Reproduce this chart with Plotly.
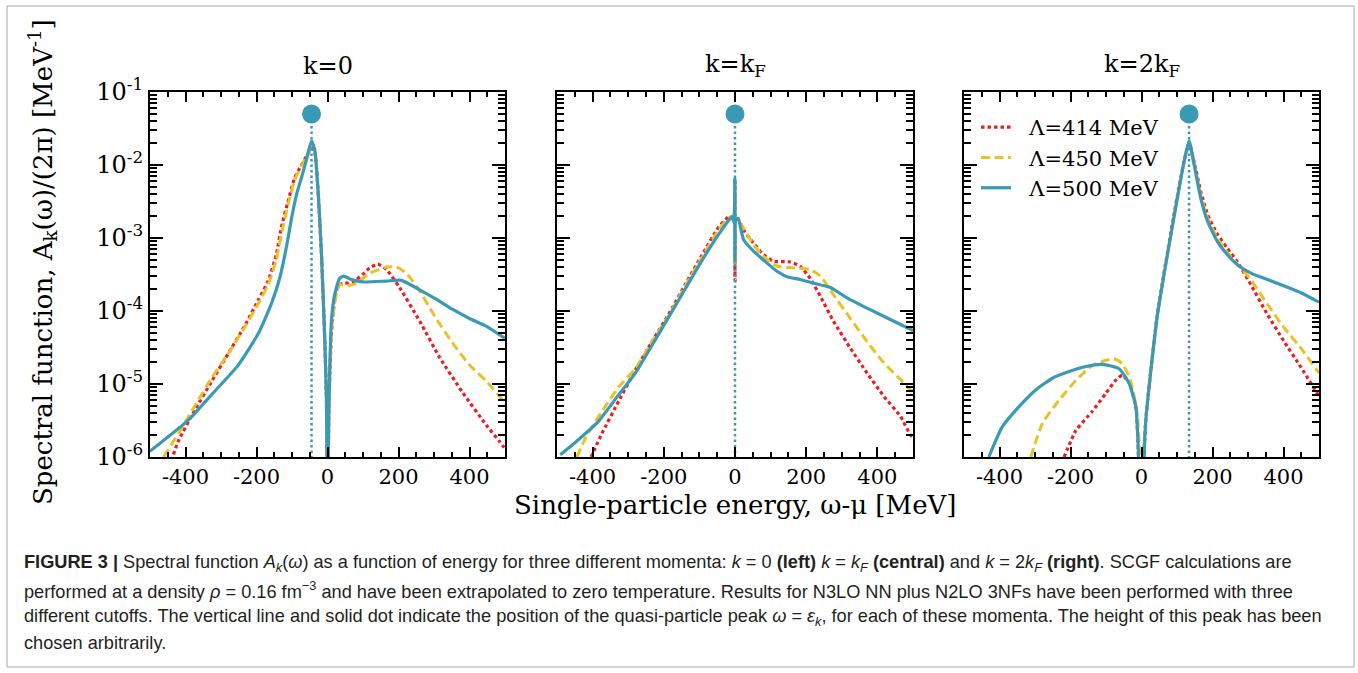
import plotly.graph_objects as go

# ---------------- data ----------------
# k = 0 panel
e_k0_414 = [-440, -420, -373, -327, -280, -233, -195, -167, -144, -130, -111, -92, -78, -59, -45, -36, -26, -17, -8, -3, 0, 4, 11, 20, 30, 45, 70, 100, 119, 142, 166, 203, 260, 316, 381, 447, 485, 505]
a_k0_414 = [8.9e-7, 1.66e-6, 4.5e-6, 1.07e-5, 2.6e-5, 6.3e-5, 1.41e-4, 2.6e-4, 6.0e-4, 1.41e-3, 3.2e-3, 6.8e-3, 9.1e-3, 1.32e-2, 1.7e-2, 1.51e-2, 4.0e-3, 6.0e-4, 4.5e-5, 6.3e-6, 1e-7, 5.0e-6, 5.0e-5, 1.41e-4, 2.24e-4, 2.4e-4, 2.45e-4, 3.2e-4, 3.9e-4, 4.4e-4, 3.7e-4, 2.1e-4, 7.2e-5, 2.3e-5, 7.6e-6, 2.75e-6, 1.62e-6, 1.2e-6]
e_k0_450 = [-462, -420, -373, -327, -280, -233, -195, -167, -144, -130, -111, -92, -73, -55, -45, -36, -26, -17, -8, -3, 0, 4, 11, 20, 34, 53, 81, 119, 166, 194, 222, 260, 306, 353, 400, 447, 494, 505]
a_k0_450 = [1.0e-6, 2.1e-6, 5.1e-6, 1.2e-5, 2.6e-5, 6.0e-5, 1.26e-4, 2.3e-4, 5.1e-4, 1.12e-3, 2.9e-3, 6.3e-3, 9.8e-3, 1.41e-2, 1.74e-2, 1.58e-2, 4.0e-3, 6.0e-4, 4.5e-5, 6.3e-6, 1e-7, 5.0e-6, 5.0e-5, 1.26e-4, 2.3e-4, 2.2e-4, 2.4e-4, 3.3e-4, 4.0e-4, 4.0e-4, 3.3e-4, 1.86e-4, 7.9e-5, 3.6e-5, 1.82e-5, 1.1e-5, 6.0e-6, 5.2e-6]
e_k0_500 = [-500, -392, -327, -252, -195, -158, -134, -116, -101, -87, -73, -59, -45, -36, -26, -17, -8, -3, 0, 4, 11, 20, 34, 46, 67, 100, 166, 208, 260, 306, 353, 400, 447, 500]
a_k0_500 = [1.2e-6, 3.2e-6, 7.1e-6, 1.8e-5, 4.9e-5, 1.26e-4, 2.9e-4, 7.4e-4, 1.9e-3, 4.0e-3, 6.8e-3, 1.2e-2, 2.14e-2, 1.62e-2, 4.0e-3, 6.0e-4, 4.5e-5, 6.3e-6, 1e-7, 5.0e-6, 7.2e-5, 1.66e-4, 2.8e-4, 3.0e-4, 2.7e-4, 2.5e-4, 2.57e-4, 2.63e-4, 1.95e-4, 1.45e-4, 1.05e-4, 7.9e-5, 6.2e-5, 4.2e-5]

# k = kF panel
e_kf_414 = [-404, -374, -327, -280, -233, -186, -140, -93, -46, -15, -8, -3, -0.3, 0, 0.3, 3, 10, 24, 52, 80, 108, 155, 183, 211, 240, 277, 324, 371, 418, 465, 493, 505]
a_kf_414 = [1.0e-6, 2.1e-6, 5.8e-6, 1.55e-5, 3.8e-5, 9.1e-5, 2.3e-4, 5.8e-4, 1.41e-3, 2.0e-3, 1.9e-3, 1.66e-3, 6.5e-3, 2.6e-4, 1.66e-3, 1.82e-3, 1.78e-3, 1.29e-3, 8.5e-4, 5.9e-4, 4.8e-4, 4.7e-4, 4.1e-4, 2.8e-4, 1.58e-4, 7.2e-5, 3.1e-5, 1.41e-5, 6.8e-6, 3.6e-6, 2.0e-6, 1.78e-6]
e_kf_450 = [-444, -420, -374, -327, -280, -233, -186, -140, -93, -46, -18, -8, -3, -0.3, 0, 0.3, 3, 10, 52, 80, 118, 165, 211, 240, 277, 324, 371, 418, 465, 493, 505]
a_kf_450 = [1.0e-6, 1.82e-6, 4.2e-6, 9.1e-6, 1.62e-5, 3.8e-5, 8.7e-5, 2.2e-4, 5.4e-4, 1.29e-3, 1.9e-3, 1.95e-3, 1.7e-3, 6.5e-3, 4.3e-4, 1.7e-3, 1.82e-3, 1.74e-3, 8.1e-4, 5.6e-4, 4.1e-4, 3.9e-4, 3.7e-4, 3.0e-4, 1.66e-4, 7.9e-5, 3.8e-5, 1.95e-5, 1.15e-5, 8.3e-6, 7.6e-6]
e_kf_500 = [-491, -439, -383, -327, -280, -233, -186, -140, -93, -46, -18, -9, -3, -0.3, 0, 0.3, 3, 9, 24, 52, 80, 118, 146, 183, 221, 268, 315, 362, 409, 455, 500]
a_kf_500 = [1.07e-6, 1.74e-6, 3.1e-6, 7.1e-6, 1.41e-5, 3.4e-5, 8.3e-5, 2.0e-4, 4.9e-4, 1.12e-3, 1.74e-3, 1.95e-3, 1.66e-3, 6.5e-3, 4.8e-4, 1.66e-3, 1.82e-3, 1.86e-3, 9.5e-4, 6.6e-4, 5.0e-4, 3.5e-4, 2.95e-4, 2.7e-4, 2.4e-4, 2.1e-4, 1.51e-4, 1.15e-4, 8.9e-5, 6.9e-5, 5.4e-5]

# k = 2kF panel
e_k2f_414 = [-218, -185, -139, -101, -73, -54, -35, -16, -9, -3, 3, 8, 12, 26, 45, 73, 101, 120, 134, 148, 167, 186, 214, 242, 270, 308, 355, 402, 449, 500]
a_k2f_414 = [1.0e-6, 2.3e-6, 4.2e-6, 7.4e-6, 1.12e-5, 1.32e-5, 1.05e-5, 4.9e-6, 1.26e-6, 1e-7, 1e-7, 1.26e-6, 3.2e-6, 1.51e-5, 9.3e-5, 6.3e-4, 3.8e-3, 1.12e-2, 2.0e-2, 1.12e-2, 4.3e-3, 2.1e-3, 1.12e-3, 7.2e-4, 4.7e-4, 2.3e-4, 8.9e-5, 3.8e-5, 1.7e-5, 6.8e-6]
e_k2f_450 = [-312, -279, -232, -185, -139, -101, -77, -54, -31, -12, -6, -2, 2, 6, 12, 26, 45, 73, 101, 120, 134, 148, 167, 186, 214, 242, 270, 308, 355, 402, 449, 500]
a_k2f_450 = [1.0e-6, 2.9e-6, 6.0e-6, 1.12e-5, 1.78e-5, 2.1e-5, 2.2e-5, 1.9e-5, 1.12e-5, 4.0e-6, 1.26e-6, 1e-7, 1e-7, 1.26e-6, 3.2e-6, 1.48e-5, 9.1e-5, 6.0e-4, 3.6e-3, 1.12e-2, 2.1e-2, 1.07e-2, 3.8e-3, 1.86e-3, 9.8e-4, 6.3e-4, 4.4e-4, 2.7e-4, 1.23e-4, 5.9e-5, 3.1e-5, 1.41e-5]
e_k2f_500 = [-430, -392, -345, -298, -251, -204, -157, -110, -63, -35, -16, -9, -3, 3, 8, 12, 26, 45, 73, 101, 120, 134, 148, 167, 186, 214, 242, 270, 308, 355, 402, 449, 500]
a_k2f_500 = [1.0e-6, 2.6e-6, 4.9e-6, 8.3e-6, 1.2e-5, 1.48e-5, 1.74e-5, 1.86e-5, 1.62e-5, 1.02e-5, 4.9e-6, 1.26e-6, 1e-7, 1e-7, 1.26e-6, 3.1e-6, 1.48e-5, 8.9e-5, 5.9e-4, 3.5e-3, 1.12e-2, 2.14e-2, 1.02e-2, 3.5e-3, 1.7e-3, 8.9e-4, 5.9e-4, 4.3e-4, 3.3e-4, 2.7e-4, 2.2e-4, 1.78e-4, 1.32e-4]

qp_energy = [-45, 0, 134]          # quasi-particle peak positions (MeV)
qp_height = 0.05                   # arbitrary marker height
qp_floor = 1e-7

panel_titles = ["k=0", "k=k<sub>F</sub>", "k=2k<sub>F</sub>"]
cutoff_labels = ["Λ=414 MeV", "Λ=450 MeV", "Λ=500 MeV"]
x_tick_vals = [-400, -200, 0, 200, 400]
x_tick_text = ["-400", "-200", "0", "200", "400"]
y_tick_vals = [1e-6, 1e-5, 1e-4, 1e-3, 1e-2, 1e-1]
y_tick_text = ["10<sup>-6</sup>", "10<sup>-5</sup>", "10<sup>-4</sup>", "10<sup>-3</sup>", "10<sup>-2</sup>", "10<sup>-1</sup>"]

panels = [
    [(e_k0_414, a_k0_414), (e_k0_450, a_k0_450), (e_k0_500, a_k0_500)],
    [(e_kf_414, a_kf_414), (e_kf_450, a_kf_450), (e_kf_500, a_kf_500)],
    [(e_k2f_414, a_k2f_414), (e_k2f_450, a_k2f_450), (e_k2f_500, a_k2f_500)],
]

# ---------------- styling ----------------
W, H = 1358, 673
RED, YEL, TEAL = "#ee1d23", "#e8c226", "#3a9ab5"
styles = [
    dict(color=RED, width=3.2, dash="3.5px,3px"),
    dict(color=YEL, width=3, dash="9px,4.5px"),
    dict(color=TEAL, width=3.2, dash="solid"),
]
SERIF = "DejaVu Serif"
SANS = "Liberation Sans"

xdom = [(150, 505), (557, 913), (964, 1319)]
ytop, ybot = 92, 457

fig = go.Figure()

for p, series in enumerate(panels):
    xa = "x" if p == 0 else f"x{p+1}"
    ya = "y" if p == 0 else f"y{p+1}"
    for s, (xs, ys) in enumerate(series):
        fig.add_trace(go.Scatter(
            x=xs, y=ys, mode="lines", xaxis=xa, yaxis=ya,
            line=dict(**styles[s], shape="spline", smoothing=0.5),
            name="\u00a0\u00a0" + cutoff_labels[s], showlegend=(p == 2),
            legendrank=s + 1,
        ))
    # quasi-particle line and dot
    fig.add_trace(go.Scatter(
        x=[qp_energy[p], qp_energy[p]], y=[qp_floor, qp_height], mode="lines",
        xaxis=xa, yaxis=ya, line=dict(color=TEAL, width=2.5, dash="2.5px,3px"),
        showlegend=False, hoverinfo="skip"))
    fig.add_trace(go.Scatter(
        x=[qp_energy[p]], y=[qp_height], mode="markers", xaxis=xa, yaxis=ya,
        marker=dict(color=TEAL, size=19, line=dict(width=0)),
        showlegend=False, cliponaxis=False))

minor_y = [m * 10.0 ** e for e in range(-6, -1) for m in range(2, 10)]

axis_common_x = dict(
    range=[-500, 500], showline=True, linecolor="black", linewidth=2, mirror="allticks",
    ticks="inside", ticklen=10, tickwidth=2, tickcolor="black",
    tickmode="array", tickvals=x_tick_vals, ticktext=x_tick_text,
    tickfont=dict(family=SERIF, size=21, color="black"),
    minor=dict(dtick=50, ticks="inside", ticklen=5, tickwidth=1.6, tickcolor="black", showgrid=False),
    showgrid=False, zeroline=False, automargin=False,
)
axis_common_y = dict(
    type="log", range=[-6, -1], showline=True, linecolor="black", linewidth=2, mirror="allticks",
    ticks="inside", ticklen=13, tickwidth=2, tickcolor="black",
    tickmode="array", tickvals=y_tick_vals, ticktext=y_tick_text,
    tickfont=dict(family=SERIF, size=24, color="black"),
    minor=dict(tickmode="array", tickvals=minor_y, ticks="inside", ticklen=7, tickwidth=1.6, tickcolor="black", showgrid=False),
    showgrid=False, zeroline=False, automargin=False,
)

layout = dict(
    width=W, height=H, margin=dict(l=0, r=0, t=0, b=0, pad=0, autoexpand=False),
    paper_bgcolor="white", plot_bgcolor="white",
    showlegend=True,
    legend=dict(x=976 / W, y=1 - 107 / H, xanchor="left", yanchor="top",
                bgcolor="rgba(0,0,0,0)", font=dict(family=SERIF, size=21, color="black"),
                itemwidth=30, traceorder="normal"),
    font=dict(family=SERIF, color="black"),
)
for p in range(3):
    sx = "xaxis" if p == 0 else f"xaxis{p+1}"
    sy = "yaxis" if p == 0 else f"yaxis{p+1}"
    layout[sx] = dict(axis_common_x, domain=[xdom[p][0] / W, xdom[p][1] / W],
                      anchor="y" if p == 0 else f"y{p+1}")
    layout[sy] = dict(axis_common_y, domain=[1 - ybot / H, 1 - ytop / H],
                      anchor="x" if p == 0 else f"x{p+1}", showticklabels=(p == 0))
fig.update_layout(**layout)

ann = []
for p in range(3):
    ann.append(dict(text=panel_titles[p], x=(xdom[p][0] + xdom[p][1]) / 2 / W, y=1 - 66 / H,
                    xref="paper", yref="paper", showarrow=False, xanchor="center", yanchor="middle",
                    font=dict(family=SERIF, size=24, color="black")))
ann.append(dict(text="Single-particle energy, ω-μ [MeV]", x=735 / W, y=1 - 505 / H,
                xref="paper", yref="paper", showarrow=False, xanchor="center", yanchor="middle",
                font=dict(family=SERIF, size=26, color="black")))
ann.append(dict(text="Spectral function, A<sub>k</sub>(ω)/(2π) [MeV<sup>-1</sup>]", x=43 / W, y=1 - 262 / H,
                xref="paper", yref="paper", showarrow=False, xanchor="center", yanchor="middle",
                textangle=-90, font=dict(family=SERIF, size=26, color="black")))

caption = [
    "<b>FIGURE 3 |</b> Spectral function <i>A<sub>k</sub></i>(<i>ω</i>) as a function of energy for three different momenta: "
    "<i>k</i> = 0 <b>(left)</b> <i>k</i> = <i>k<sub>F</sub></i> <b>(central)</b> and <i>k</i> = 2<i>k<sub>F</sub></i> <b>(right)</b>. SCGF calculations are",
    "performed at a density <i>ρ</i> = 0.16 fm<sup>−3</sup> and have been extrapolated to zero temperature. Results for N3LO NN plus N2LO 3NFs have been performed with three",
    "different cutoffs. The vertical line and solid dot indicate the position of the quasi-particle peak <i>ω</i> = <i>ε<sub>k</sub></i>, for each of these momenta. The height of this peak has been",
    "chosen arbitrarily.",
]
cap_y = [563, 590, 617, 643]
for t, yy in zip(caption, cap_y):
    ann.append(dict(text=t, x=22 / W, y=1 - yy / H, xref="paper", yref="paper", showarrow=False,
                    xanchor="left", yanchor="middle", align="left",
                    font=dict(family=SANS, size=18.2, color="#231f20")))
fig.update_layout(annotations=ann)

fig.add_shape(type="rect", xref="paper", yref="paper", x0=7 / W, x1=1354 / W, y0=1 - 667 / H, y1=1 - 6 / H,
              line=dict(color="#a8a8a8", width=1), fillcolor="rgba(0,0,0,0)", layer="below")

fig.write_html("out.html", config={"displayModeBar": False},
               post_script="document.body.style.margin='0';")
